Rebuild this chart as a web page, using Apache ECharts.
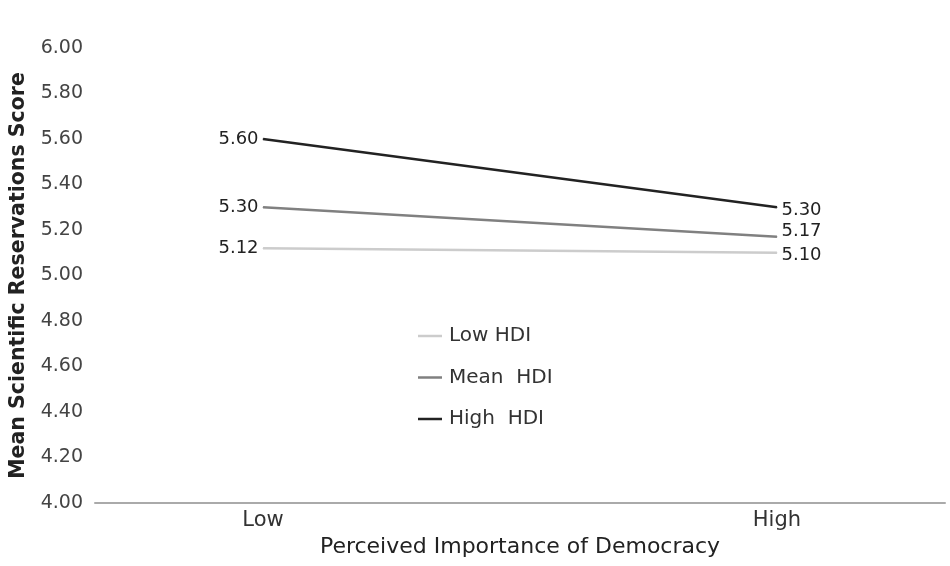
<!DOCTYPE html>
<html>
<head>
<meta charset="utf-8">
<script src="https://cdn.jsdelivr.net/npm/echarts@6/dist/echarts.min.js"></script>
<style>
  html, body { margin: 0; padding: 0; background: #fff; }
  #chart { width: 950px; height: 566px; }
</style>
</head>
<body>
<div id="chart"></div>
<script>
(function () {
  var categories = ['Low', 'High'];
  var seriesNames = ['Low HDI', 'Mean  HDI', 'High  HDI'];
  var lowHdi = [5.12, 5.10];
  var meanHdi = [5.30, 5.17];
  var highHdi = [5.60, 5.30];
  var yTicks = [4.0, 4.2, 4.4, 4.6, 4.8, 5.0, 5.2, 5.4, 5.6, 5.8, 6.0];

  var font = 'DejaVu Sans';
  var myChart = echarts.init(document.getElementById('chart'));

  // categories sit at 0 and 1 on a value axis so the ends can be padded
  function toPoints(vals) {
    var res = [];
    for (var i = 0; i < vals.length; i++) {
      res.push({
        value: [i, vals[i]],
        label: { position: i === 0 ? 'left' : 'right' }
      });
    }
    return res;
  }

  // rightShift nudges the right-hand label up/down so they don't collide
  function makeSeries(name, vals, color, rightShift) {
    return {
      name: name,
      type: 'line',
      data: toPoints(vals),
      symbol: 'circle',
      symbolSize: 1,
      showSymbol: true,
      lineStyle: { color: color, width: 2.5 },
      itemStyle: { color: color },
      label: {
        show: true,
        fontFamily: font,
        fontSize: 18,
        color: '#222',
        distance: 4,
        formatter: function (p) { return p.value[1].toFixed(2); }
      },
      labelLayout: function (p) {
        return p.dataIndex === 1 ? { dy: rightShift, hideOverlap: false } : { hideOverlap: false };
      },
      emphasis: { disabled: true },
      animation: false
    };
  }

  myChart.setOption({
    backgroundColor: '#fff',
    textStyle: { fontFamily: font },
    grid: { left: 95, right: 5, top: 48, bottom: 63, containLabel: false, outerBoundsMode: 'none' },
    legend: {
      orient: 'vertical',
      left: 413,
      top: 321,
      itemGap: 21.5,
      itemWidth: 24,
      itemHeight: 22,
      data: seriesNames,
      textStyle: { fontFamily: font, fontSize: 20, color: '#333', padding: [0, 0, 0, 2] },
      icon: 'path://M0,10 L24,10 L24,12.5 L0,12.5 Z'
    },
    xAxis: {
      type: 'value',
      min: -0.327,
      max: 1.327,
      name: 'Perceived Importance of Democracy',
      nameLocation: 'middle',
      nameGap: 33,
      nameTextStyle: { fontFamily: font, fontSize: 22, color: '#222' },
      axisLine: { show: true, lineStyle: { color: '#aaa', width: 2 } },
      axisTick: { show: false },
      splitLine: { show: false },
      axisLabel: {
        customValues: [0, 1],
        formatter: function (v) { return categories[Math.round(v)]; },
        fontFamily: font,
        fontSize: 21,
        color: '#333',
        margin: 7
      }
    },
    yAxis: {
      type: 'value',
      min: yTicks[0],
      max: yTicks[yTicks.length - 1],
      interval: 0.2,
      name: 'Mean Scientific Reservations Score',
      nameLocation: 'middle',
      nameGap: 66,
      nameTextStyle: { fontFamily: font, fontSize: 20.5, fontWeight: 600, color: '#222' },
      axisLine: { show: false },
      axisTick: { show: false },
      splitLine: { show: false },
      axisLabel: {
        fontFamily: font,
        fontSize: 19,
        color: '#444',
        margin: 12,
        formatter: function (v) { return v.toFixed(2); }
      }
    },
    series: [
      makeSeries(seriesNames[0], lowHdi, '#cccccc', 3),
      makeSeries(seriesNames[1], meanHdi, '#808080', -5),
      makeSeries(seriesNames[2], highHdi, '#222222', 3)
    ]
  });

  window.addEventListener('resize', function () {
    myChart.resize();
  });
})();
</script>
</body>
</html>
